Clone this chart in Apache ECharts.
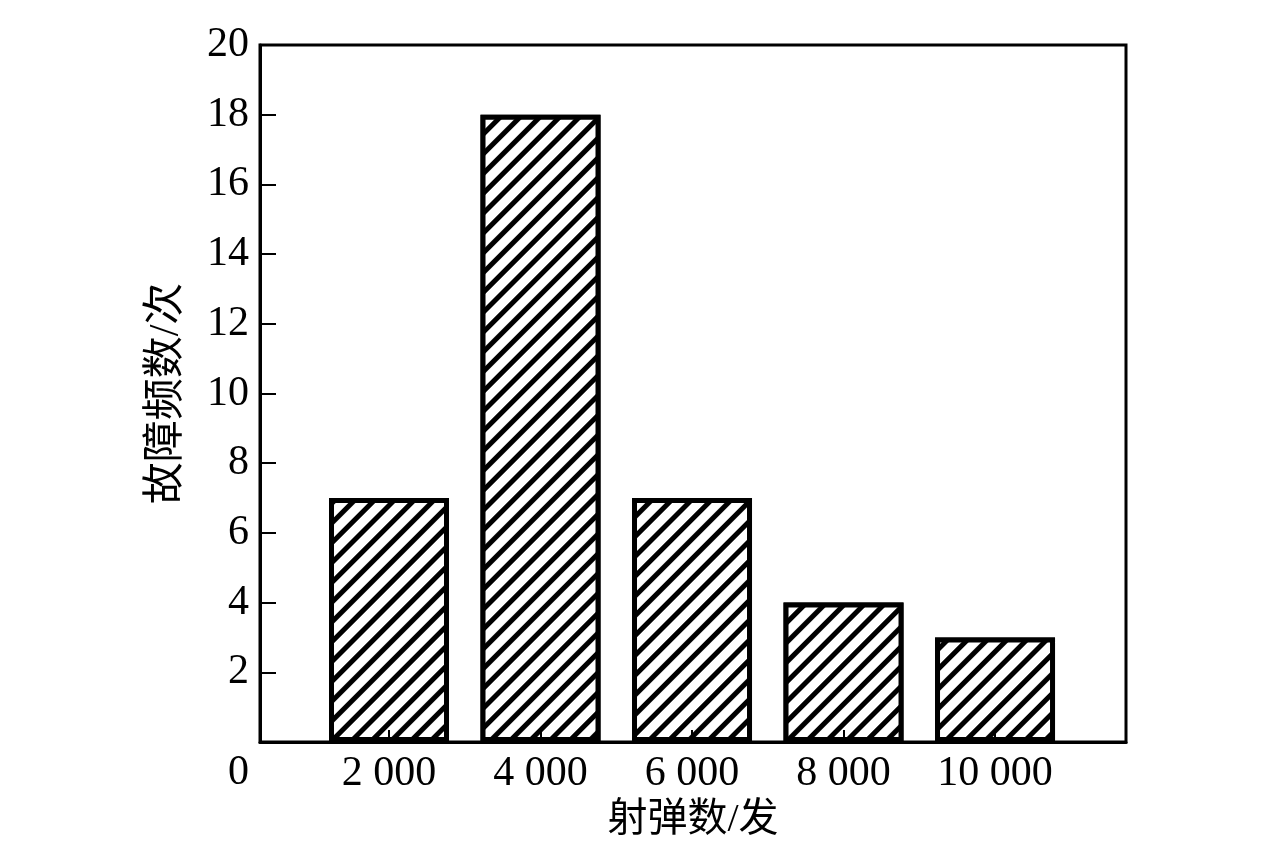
<!DOCTYPE html>
<html>
<head>
<meta charset="utf-8">
<script src="https://cdn.jsdelivr.net/npm/echarts@6/dist/echarts.min.js"></script>
<style>html,body{margin:0;padding:0;background:#fff}#c{width:1276px;height:847px}</style>
</head>
<body>
<div id="c"></div>
<script>
const shots = [2000, 4000, 6000, 8000, 10000];
const failures = [7, 18, 7, 4, 3];
const xTicks = [2000, 4000, 6000, 8000, 10000];
const yTicks = [0, 2, 4, 6, 8, 10, 12, 14, 16, 18, 20];
const xTitle = '射弹数/发';
const yTitle = '故障频数/次';

const FONT = "'Liberation Serif', 'Noto Sans CJK SC', serif";
const chart = echarts.init(document.getElementById('c'));
chart.setOption({
  backgroundColor: '#fff',
  animation: false,
  grid: { left: 260, right: 150, top: 45, bottom: 105, show: true, borderColor: '#000', borderWidth: 3, backgroundColor: 'transparent' },
  xAxis: {
    type: 'value', min: 297, max: 11729, z: 5,
    splitLine: { show: false },
    axisLine: { lineStyle: { color: '#000', width: 3 } },
    axisTick: { show: true, inside: true, length: 12, customValues: xTicks, lineStyle: { color: '#000', width: 2 } },
    axisLabel: {
      customValues: xTicks, margin: 11, color: '#000', fontFamily: FONT, fontSize: 42,
      formatter: v => { const s = String(v); return s.slice(0, s.length - 3) + ' ' + s.slice(-3); }
    },
    name: xTitle, nameLocation: 'middle', nameGap: 58,
    nameTextStyle: { color: '#000', fontFamily: FONT, fontSize: 40 }
  },
  yAxis: {
    type: 'value', min: 0, max: 20, interval: 2,
    splitLine: { show: false },
    axisLine: { show: true, lineStyle: { color: '#000', width: 3 } },
    axisTick: { show: true, inside: true, length: 16, lineStyle: { color: '#000', width: 2 } },
    axisLabel: {
      margin: 11, color: '#000', fontFamily: FONT, fontSize: 42,
      formatter: v => v === 0 ? '{o|0}' : String(v),
      rich: { o: { fontFamily: FONT, fontSize: 42, color: '#000', padding: [62, 0, 0, 0] } }
    },
    name: yTitle, nameLocation: 'middle', nameGap: 72,
    nameTextStyle: { color: '#000', fontFamily: FONT, fontSize: 42 }
  },
  series: [{
    type: 'bar',
    data: shots.map((s, i) => [s, failures[i]]),
    barWidth: 120,
    itemStyle: {
      color: '#fff', borderColor: '#000', borderWidth: 5,
      decal: { symbol: 'rect', symbolSize: 1, dashArrayX: [[1, 0]], dashArrayY: [4.5, 9], rotation: -Math.PI / 4, color: '#000', backgroundColor: '#fff' }
    }
  }]
});
</script>
</body>
</html>
